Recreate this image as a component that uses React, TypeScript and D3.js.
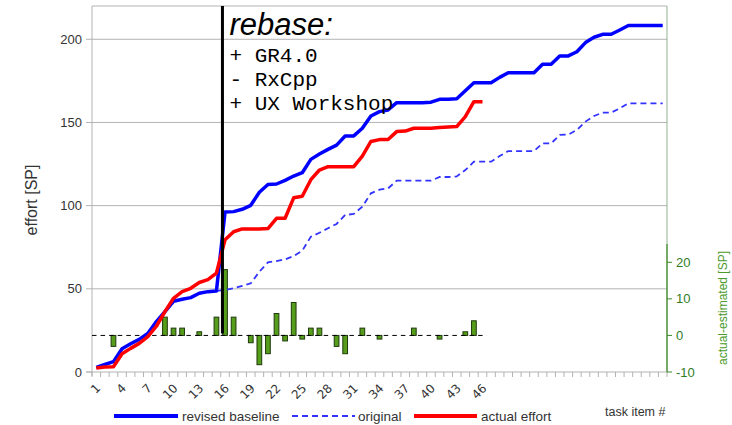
import React from "react";
import * as d3 from "d3";

// Task items 1..67; only the first 46 carry a printed label
const taskCount = 67;
const labelledTasks = 46;

// Cumulative effort [SP] per task item
const revisedBaseline = [
  2.8, 4.5, 6.2, 14.0, 17.0, 19.6, 23.2, 30.3, 36.3, 42.5,
  43.7, 44.7, 47.3, 48.3, 48.7, 96.2, 96.4, 97.8, 100.2, 108.0,
  112.7, 113.0, 115.2, 117.8, 119.8, 127.8, 131.0, 133.8, 136.4, 141.9,
  141.9, 146.5, 153.9, 156.5, 157.5, 161.9, 161.9, 161.9, 161.9, 162.2,
  163.9, 163.9, 164.2, 169.1, 173.9, 173.9, 173.9, 177.1, 179.9, 179.9,
  179.9, 179.9, 185.0, 185.0, 190.0, 190.0, 192.5, 198.0, 201.2, 203.0,
  203.0, 205.6, 208.3, 208.3, 208.3, 208.3, 208.3,
];

const originalBaseline = [
  2.8, 4.5, 6.2, 14.0, 17.0, 19.6, 23.2, 30.3, 36.3, 42.5,
  43.7, 44.7, 47.3, 48.3, 48.7, 49.3, 50.3, 51.7, 53.3, 60.3,
  65.9, 66.7, 67.7, 69.7, 72.9, 81.3, 83.7, 86.4, 89.0, 94.4,
  95.0, 99.4, 107.4, 109.6, 110.4, 115.0, 115.0, 115.0, 115.0, 115.0,
  117.2, 117.2, 117.6, 121.4, 126.4, 126.4, 126.4, 129.8, 132.8, 132.8,
  132.8, 132.8, 137.4, 137.4, 142.5, 142.7, 145.5, 150.5, 153.9, 155.9,
  155.9, 158.5, 161.5, 161.5, 161.5, 161.5, 161.5,
];

const actualEffort = [
  2.4, 3.0, 3.2, 11.0, 14.2, 17.2, 21.2, 27.5, 36.3, 44.3,
  48.3, 50.3, 53.8, 55.5, 59.5, 79.5, 84.3, 86.0, 86.0, 86.0,
  86.2, 92.4, 92.4, 104.7, 105.6, 115.6, 121.4, 123.4, 123.4, 123.4,
  123.4, 129.8, 138.6, 139.7, 139.7, 144.5, 144.8, 146.5, 146.5, 146.5,
  147.0, 147.2, 147.5, 153.5, 162.5, 162.5,
];

// Per-item deviation actual - estimated [SP]
const deviation = [
  0, 0, -3, 0, 0, 0, 0, 0, 5, 2,
  2, 0, 1, 0, 5, 18, 5, 0, -2, -8,
  -5, 6, -1.5, 9, -1, 2, 2, 0, -3, -5,
  0, 2, 0, -1, 0, 0, 0, 2, 0, 0,
  -1, 0, 0, 1, 4, 0,
];

const effortTicks = [0, 50, 100, 150, 200];
const deviationTicks = [-10, 0, 10, 20];
const rebaseItem = 16;
const rebaseNotes = ["+ GR4.0", "- RxCpp", "+ UX Workshop"];

const legendItems = [
  { label: "revised baseline", color: "#0000ff", width: 4, dash: null },
  { label: "original", color: "#3333ff", width: 2, dash: "6,4" },
  { label: "actual effort", color: "#ff0000", width: 4, dash: null },
];

const W = 732;
const H = 425;
const left = 92;
const right = 667;
const top = 6;
const bottom = 372;

const sans = "'Liberation Sans', Arial, sans-serif";
const mono = "'Liberation Mono', 'DejaVu Sans Mono', monospace";
const green = "#2f7d1f";

export default function App() {
  const tasks = d3.range(1, taskCount + 1);
  const x = d3.scaleBand<number>().domain(tasks).range([left, right]).padding(0);
  const bw = x.bandwidth();
  const xc = (t: number) => (x(t) as number) + bw / 2;
  const yL = d3.scaleLinear().domain([0, 220]).range([bottom, top]);
  const yR = d3.scaleLinear().domain([-10, 25]).range([bottom, 244]);

  const line = d3
    .line<number>()
    .x((_, i) => xc(i + 1))
    .y((v) => yL(v));

  const rebaseX = xc(rebaseItem) - 0.3 * bw;
  const barW = bw * 0.55;

  const boundaries = d3.range(0, taskCount + 1).map((i) => left + i * bw);

  return (
    <svg
      width={W}
      height={H}
      style={{ position: "absolute", left: 0, top: 0, display: "block", background: "#fff" }}
    >
      {/* horizontal grid */}
      {effortTicks.slice(1).map((t) => (
        <line key={t} x1={left} x2={right} y1={yL(t)} y2={yL(t)} stroke="#b3b3b3" strokeWidth={1} />
      ))}
      {/* frame */}
      <line x1={left} x2={right} y1={top} y2={top} stroke="#b3b3b3" />
      <line x1={right} x2={right} y1={top} y2={bottom} stroke="#93b393" />
      <line x1={left} x2={left} y1={top} y2={bottom + 4} stroke="#b3b3b3" />
      <line x1={left - 6} x2={right} y1={bottom} y2={bottom} stroke="#b3b3b3" />

      {/* left axis */}
      {effortTicks.map((t) => (
        <g key={t}>
          <line x1={left - 6} x2={left} y1={yL(t)} y2={yL(t)} stroke="#b3b3b3" />
          <text x={left - 10} y={yL(t)} dy="0.35em" textAnchor="end" fontFamily={sans} fontSize={13} fill="#333">
            {t}
          </text>
        </g>
      ))}
      <text
        transform={`translate(37,200) rotate(-90)`}
        textAnchor="middle"
        fontFamily={sans}
        fontSize={16}
        fill="#333"
      >
        effort [SP]
      </text>

      {/* bottom axis ticks and labels */}
      {boundaries.map((b, i) => (
        <line key={i} x1={b} x2={b} y1={bottom} y2={bottom + 5} stroke="#b3b3b3" />
      ))}
      {tasks
        .filter((t) => t <= labelledTasks && (t - 1) % 3 === 0)
        .map((t) => (
          <text
            key={t}
            transform={`translate(${xc(t) + 2},${bottom + 14}) rotate(-45)`}
            textAnchor="end"
            dy="0.35em"
            fontFamily="'DejaVu Sans', sans-serif"
            fontSize={12}
            fill="#333"
          >
            {t}
          </text>
        ))}
      <text x={605} y={416} fontFamily={sans} fontSize={12.5} fill="#333">
        task item #
      </text>

      {/* right axis */}
      <line x1={right} x2={right} y1={yR(25)} y2={bottom} stroke="#5a9a45" strokeWidth={1.5} />
      {deviationTicks.map((t) => (
        <g key={t}>
          <line x1={right} x2={right + 5} y1={yR(t)} y2={yR(t)} stroke="#3c8a2a" />
          <text x={right + 9} y={yR(t)} dy="0.35em" fontFamily={sans} fontSize={13} fill={green}>
            {t}
          </text>
        </g>
      ))}
      <text
        transform={`translate(727,${(yR(25) + bottom) / 2}) rotate(-90)`}
        textAnchor="middle"
        fontFamily={sans}
        fontSize={12}
        fill="#4c9a2a"
      >
        actual-estimated [SP]
      </text>

      {/* deviation bars */}
      {deviation.map((v, i) =>
        v === 0 ? null : (
          <rect
            key={i}
            x={xc(i + 1) - barW / 2}
            y={Math.min(yR(v), yR(0))}
            width={barW}
            height={Math.abs(yR(v) - yR(0))}
            fill="#579d1c"
            stroke="#1e3a0c"
            strokeWidth={1}
          />
        )
      )}
      <line
        x1={x(1) as number}
        x2={(x(deviation.length) as number) + bw}
        y1={yR(0)}
        y2={yR(0)}
        stroke="#000"
        strokeWidth={1}
        strokeDasharray="4.5,4.08"
      />

      {/* effort lines */}
      <path d={line(originalBaseline) || ""} fill="none" stroke="#3333ff" strokeWidth={1.8} strokeDasharray="6,4" />
      <path d={line(revisedBaseline) || ""} fill="none" stroke="#0000ff" strokeWidth={3.5} strokeLinejoin="round" />
      <path d={line(actualEffort) || ""} fill="none" stroke="#ff0000" strokeWidth={3.5} strokeLinejoin="round" />

      {/* rebase marker */}
      <line x1={rebaseX} x2={rebaseX} y1={top} y2={yR(0.5)} stroke="#000" strokeWidth={3} />
      <text x={rebaseX + 7} y={35} fontFamily={sans} fontStyle="italic" fontSize={31} fill="#000">
        rebase:
      </text>
      {rebaseNotes.map((n, i) => (
        <text key={n} x={rebaseX + 7} y={62 + i * 24} fontFamily={mono} fontSize={21} fill="#000" xmlSpace="preserve">
          {n}
        </text>
      ))}

      {/* legend */}
      {(() => {
        const pos = [
          { x0: 114, x1: 178, tx: 182 },
          { x0: 292, x1: 355, tx: 358 },
          { x0: 414, x1: 477, tx: 481 },
        ];
        return legendItems.map((it, i) => (
          <g key={it.label}>
            <line
              x1={pos[i].x0}
              x2={pos[i].x1}
              y1={416}
              y2={416}
              stroke={it.color}
              strokeWidth={it.width}
              strokeDasharray={it.dash || undefined}
            />
            <text x={pos[i].tx} y={416} dy="0.35em" fontFamily={sans} fontSize={13.5} fill="#333">
              {it.label}
            </text>
          </g>
        ));
      })()}
    </svg>
  );
}
